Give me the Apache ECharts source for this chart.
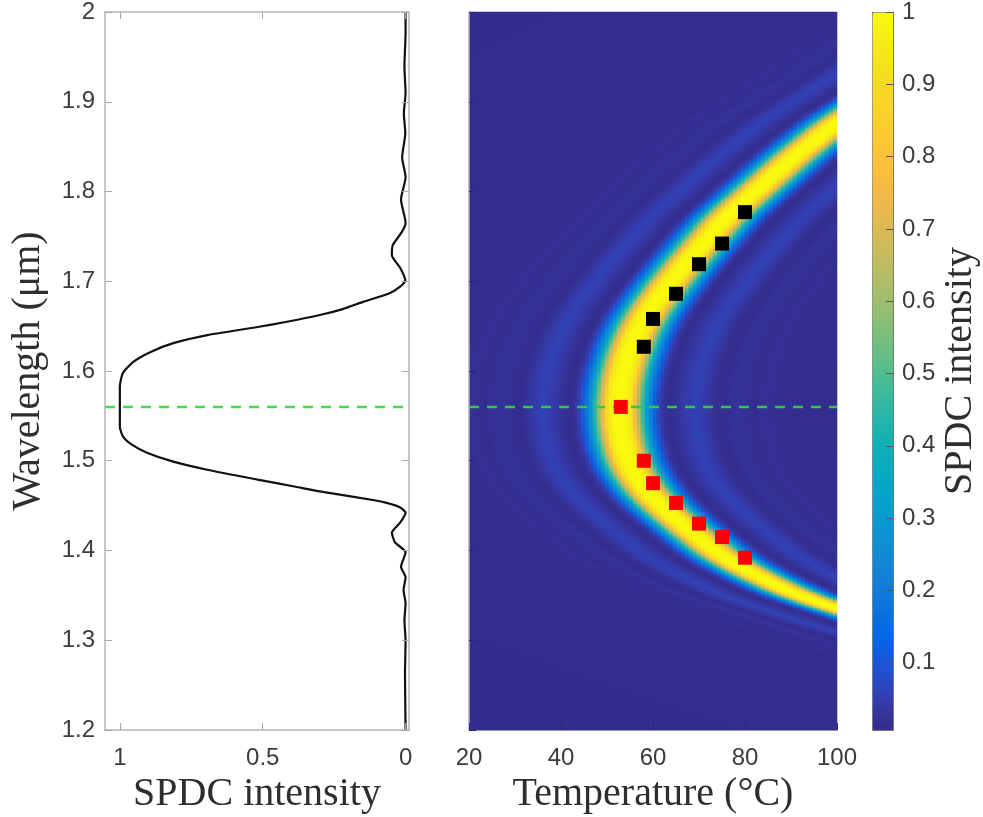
<!DOCTYPE html>
<html><head><meta charset="utf-8">
<style>html,body{margin:0;padding:0;background:#fff}#c{width:983px;height:817px}</style>
<script src="https://cdn.jsdelivr.net/npm/echarts@6/dist/echarts.min.js"></script>
</head><body><div id="c"></div>
<script>
// Left panel: spectrum
const lineWavelength = [1.2,1.263,1.3,1.322,1.341,1.356,1.37,1.382,1.398,1.409,1.42,1.431,1.442,1.448,1.453,1.456,1.465,1.471,1.479,1.49,1.499,1.509,1.518,1.527,1.538,1.56,1.583,1.598,1.61,1.621,1.631,1.64,1.649,1.6546,1.6624,1.669,1.677,1.686,1.694,1.701,1.715,1.729,1.74,1.755,1.765,1.791,1.816,1.838,1.865,1.887,1.91,1.939,1.977,2.0];
const lineIntensity  = [0,0.002,0,0.004,0,0.007,0,0.016,0,0.037,0.048,0.019,0,0.019,0.066,0.109,0.285,0.385,0.518,0.694,0.813,0.905,0.958,0.989,1,1,1,0.989,0.954,0.894,0.813,0.694,0.518,0.42,0.3,0.22,0.149,0.06,0.019,0.001,0.019,0.048,0.045,0.013,0,0.016,0,0.012,0.001,0.006,0,0.004,0,0];

// Right panel: markers
const blackT = [58,60,65,70,75,80];
const blackL = [1.627,1.658,1.686,1.719,1.742,1.777];
const redT   = [53,58,60,65,70,75,80];
const redL   = [1.56,1.5,1.475,1.453,1.43,1.415,1.392];
const pumpLine = 1.56;

// Right panel: bright-band centre read row by row (beyond 100 °C: inferred from the side lobes)
const ridgeL = [1.2,1.25,1.297,1.308,1.336,1.348,1.37,1.393,1.41,1.431,1.453,1.475,1.495,1.512,1.535,1.56,1.587,1.61,1.623,1.64,1.66,1.687,1.71,1.731,1.772,1.805,1.838,1.877,1.932,1.965,2.0];
const ridgeT = [180,150,125.4,116.7,100,92.6,83.3,75.2,71,66,61,57.3,55,53.8,52.9,52.6,53.1,54.2,55,56.3,58.3,62,65.5,69,76,83.3,90.5,100,116.7,125.4,140];
// Cross-section of the band at 1.56 µm (offset in °C from the centre)
const profileOffset = [0,1.2,2.5,3.2,3.9,4.6,5.4,6.1,6.9,7.8,8.6,9.7,10.9,12.5,14.5,16.7,19,21,23,25.4,27.5,29.5,32,35,200];
const profileValue  = [1,0.99,0.94,0.8,0.68,0.55,0.42,0.3,0.2,0.11,0.055,0.02,0.008,0.02,0.04,0.055,0.035,0.012,0.01,0.022,0.015,0.01,0.016,0.01,0.005];

const parula = ['#352A87','#353DAD','#2053D4','#0268E1','#0D75DC','#1481D6','#108ED2','#079CCF','#06A7C6','#0FAEB9','#25B5A9','#42BB98','#65BE86','#87BF77','#A5BE6B','#C0BC60','#D9BA56','#F1B94A','#FDBE3D','#FEC832','#F9D32A','#F5DE21','#F5EB18','#F9FB0E'];
const yTicks = [1.2,1.3,1.4,1.5,1.6,1.7,1.8,1.9,2];
const tempTicks = [20,40,60,80,100];
const intensityTicks = [1,0.5,0];
const barTicks = [0.1,0.2,0.3,0.4,0.5,0.6,0.7,0.8,0.9,1];

function lookup(xs, ys, x){
  if (x <= xs[0]) return ys[0];
  for (let i = 1; i < xs.length; i++) if (x <= xs[i]) {
    const f = (x - xs[i-1]) / (xs[i] - xs[i-1]);
    return ys[i-1] + f * (ys[i] - ys[i-1]);
  }
  return ys[ys.length-1];
}
const nCols = 92, nRows = 359;
const catT = [], catL = [], cells = [];
for (let i = 0; i < nCols; i++) catT.push(20 + (i + 0.5) * 80 / nCols);
for (let j = 0; j < nRows; j++) catL.push(1.2 + (j + 0.5) * 0.8 / nRows);
const centre = catL.map(l => (lookup(ridgeL, ridgeT, l - 0.008) + lookup(ridgeL, ridgeT, l) + lookup(ridgeL, ridgeT, l + 0.008)) / 3);
for (let j = 0; j < nRows; j++) for (let i = 0; i < nCols; i++)
  cells.push([i, j, lookup(profileOffset, profileValue, Math.abs(catT[i] - centre[j]))]);

const tickFont = {fontFamily:'"Liberation Sans",Arial,sans-serif', fontSize:24, color:'#3c3c3c'};
const nameFont = {fontFamily:'"Liberation Serif",serif', fontSize:40, color:'#2e2e2e'};
const grayLine = {onZero:false, lineStyle:{color:'#b4b4b4', width:1.5}};
const heatLine = {onZero:false, lineStyle:{color:'#8f8fa8', width:1}};
const tick = (vals, color) => ({show:true, inside:true, length:7, customValues:vals, lineStyle:{color:color, width:1}});
const noLab = {show:false};

const GRIDS = [
  {left:105, top:12, width:304, height:718, outerBoundsMode:'none'},
  {left:469, top:12, width:368, height:718, outerBoundsMode:'none', show:true, backgroundColor:'#352A87', borderWidth:0},
  {left:469, top:12, width:368, height:718, outerBoundsMode:'none'},
  {left:872, top:12, width:21,  height:718, outerBoundsMode:'none'}
];
const LMIN = 1.2, LMAX = 2;

const option = {
  animation:false,
  backgroundColor:'#fff',
  grid:GRIDS,
  visualMap:[{
    type:'continuous', seriesIndex:0, dimension:2, min:0, max:1,
    inRange:{color:parula}, show:true, calculable:false, hoverLink:false,
    left:872, top:12, itemWidth:21, itemHeight:718, padding:0, text:null, showLabel:false,
    borderColor:'#77776a', borderWidth:1
  }],
  xAxis:[
    {gridIndex:0, type:'value', inverse:true, min:-0.012, max:1.052, position:'bottom', z:5,
     splitLine:noLab, axisLine:grayLine, axisTick:tick(intensityTicks,'#a8a8a8'),
     axisLabel:{...tickFont, margin:16, customValues:intensityTicks, formatter:v=>String(v)},
     name:'SPDC intensity', nameLocation:'middle', nameGap:43, nameTextStyle:nameFont},
    {gridIndex:0, type:'value', inverse:true, min:-0.012, max:1.052, position:'top', z:5,
     splitLine:noLab, axisLine:grayLine, axisTick:tick(intensityTicks,'#a8a8a8'), axisLabel:noLab},
    {gridIndex:1, type:'category', data:catT, show:false},
    {gridIndex:2, type:'value', min:20, max:100, position:'bottom', z:5,
     splitLine:noLab, axisLine:heatLine, axisTick:tick(tempTicks,'#2c2570'),
     axisLabel:{...tickFont, margin:16, customValues:tempTicks, formatter:v=>String(v)},
     name:'Temperature (°C)', nameLocation:'middle', nameGap:43, nameTextStyle:nameFont},
    {gridIndex:3, type:'value', min:0, max:1, show:false}
  ],
  yAxis:[
    {gridIndex:0, type:'value', min:LMIN, max:LMAX, position:'left', z:5,
     splitLine:noLab, axisLine:grayLine, axisTick:tick(yTicks,'#a8a8a8'),
     axisLabel:{...tickFont, margin:10, customValues:yTicks, formatter:v=>String(+v.toFixed(1))},
     name:'Wavelength (μm)', nameLocation:'middle', nameGap:57, nameRotate:90,
     nameTextStyle:nameFont},
    {gridIndex:0, type:'value', min:LMIN, max:LMAX, position:'right', z:5,
     splitLine:noLab, axisLine:grayLine, axisTick:tick(yTicks,'#a8a8a8'), axisLabel:noLab},
    {gridIndex:1, type:'category', data:catL, show:false},
    {gridIndex:2, type:'value', min:LMIN, max:LMAX, position:'left', z:5,
     splitLine:noLab, axisLine:heatLine, axisTick:tick(yTicks,'#2c2570'), axisLabel:noLab},
    {gridIndex:3, type:'value', min:0.007, max:1, position:'right', z:5,
     splitLine:noLab, axisLine:{onZero:false, lineStyle:{color:'#77776a', width:1}}, axisTick:tick(barTicks,'#55554a'),
     axisLabel:{...tickFont, margin:9, customValues:barTicks, formatter:v=>String(+v.toFixed(1))},
     name:'SPDC intensity', nameLocation:'middle', nameGap:47, nameRotate:90, nameTextStyle:nameFont}
  ],
  series:[
    {type:'heatmap', xAxisIndex:2, yAxisIndex:2, data:cells, z:2, silent:true, progressive:0, emphasis:{disabled:true}},
    {type:'line', xAxisIndex:0, yAxisIndex:0, data:lineIntensity.map((v,i)=>[v,lineWavelength[i]]),
     showSymbol:false, smooth:0.2, lineStyle:{color:'#111', width:2.2}, z:3, silent:true},
    {type:'line', xAxisIndex:0, yAxisIndex:0, data:[[1.052,pumpLine],[-0.012,pumpLine]], showSymbol:false,
     lineStyle:{color:'#45dc4f', width:2.5, type:[10,8]}, z:4, silent:true},
    {type:'line', xAxisIndex:3, yAxisIndex:3, data:[[20,pumpLine],[100,pumpLine]], showSymbol:false,
     lineStyle:{color:'#2fc84a', width:2.5, type:[10,8]}, z:4, silent:true},
    {type:'scatter', xAxisIndex:3, yAxisIndex:3, data:blackT.map((t,i)=>[t,blackL[i]]), symbol:'rect', symbolSize:14,
     itemStyle:{color:'#000', opacity:1}, z:6, silent:true},
    {type:'scatter', xAxisIndex:3, yAxisIndex:3, data:redT.map((t,i)=>[t,redL[i]]), symbol:'rect', symbolSize:14,
     itemStyle:{color:'#fb0006', opacity:1}, z:6, silent:true}
  ]
};
const chart = echarts.init(document.getElementById('c'), null, {renderer:'canvas'});
chart.setOption(option);
</script></body></html>
